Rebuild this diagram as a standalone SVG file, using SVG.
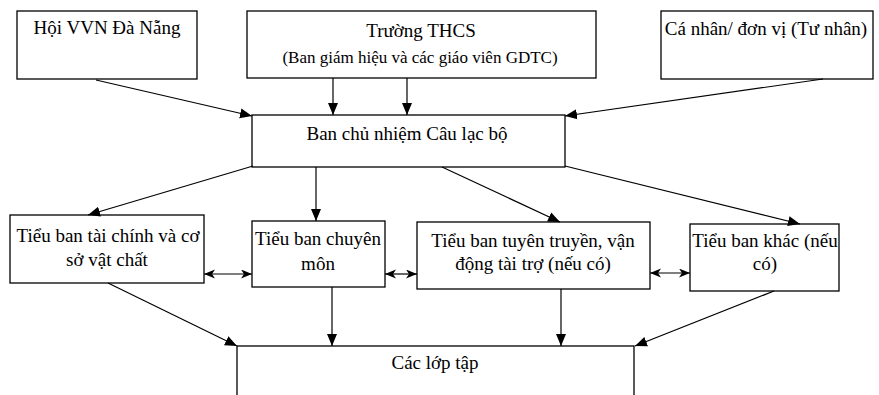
<svg xmlns="http://www.w3.org/2000/svg" width="879" height="395" viewBox="0 0 879 395">
<style>
.box{fill:#fff;stroke:#000;stroke-width:1.3}
.t{font-family:"Liberation Serif","Times New Roman",serif;font-size:19px;fill:#000;text-anchor:middle}
.s{font-size:17px}
.c line{stroke:#000;stroke-width:1.2}
.a{marker-end:url(#ah)}
.d{marker-start:url(#dh);marker-end:url(#dh)}
</style>
<defs>
<marker id="ah" markerUnits="userSpaceOnUse" markerWidth="14" markerHeight="12" refX="12" refY="5.5" orient="auto">
<path d="M0,0.5 L12,5.5 L0,10.5 z" fill="#000"/>
</marker>
<marker id="dh" markerUnits="userSpaceOnUse" markerWidth="12" markerHeight="10" refX="11" refY="4.5" orient="auto-start-reverse">
<path d="M0,0 L11,4.5 L0,9 L3,4.5 z" fill="#000"/>
</marker>
</defs>
<rect width="879" height="395" fill="#fff"/>
<g id="hoi-vvn">
<rect class="box" x="17" y="11" width="180" height="68"/>
<text class="t" x="107" y="34">Hội VVN Đà Nẵng</text>
</g>
<g id="truong-thcs">
<rect class="box" x="247" y="11" width="349" height="67"/>
<text class="t" x="421" y="37">Trường THCS</text>
<text class="t s" x="420" y="63">(Ban giám hiệu và các giáo viên GDTC)</text>
</g>
<g id="ca-nhan">
<rect class="box" x="661" y="11" width="212" height="68"/>
<text class="t" x="766" y="35">Cá nhân/ đơn vị (Tư nhân)</text>
</g>
<g id="ban-chu-nhiem">
<rect class="box" x="252" y="115" width="313" height="52"/>
<text class="t" x="407" y="140">Ban chủ nhiệm Câu lạc bộ</text>
</g>
<g id="tai-chinh">
<rect class="box" x="10" y="215" width="194" height="68"/>
<text class="t" x="108" y="242">Tiểu ban tài chính và cơ</text>
<text class="t" x="107" y="266">sở vật chất</text>
</g>
<g id="chuyen-mon">
<rect class="box" x="252" y="221" width="133" height="66"/>
<text class="t" x="318" y="245">Tiểu ban chuyên</text>
<text class="t" x="318" y="270">môn</text>
</g>
<g id="tuyen-truyen">
<rect class="box" x="417" y="222" width="233" height="67"/>
<text class="t" x="533" y="247">Tiểu ban tuyên truyền, vận</text>
<text class="t" x="533" y="270">động tài trợ (nếu có)</text>
</g>
<g id="khac">
<rect class="box" x="690" y="224" width="149" height="67"/>
<text class="t" x="765" y="247">Tiểu ban khác (nếu</text>
<text class="t" x="765" y="270">có)</text>
</g>
<g id="cac-lop-tap">
<rect class="box" x="237" y="346" width="397" height="80"/>
<text class="t" x="435" y="369">Các lớp tập</text>
</g>
<g id="connectors" class="c">
<line class="a" x1="96" y1="80" x2="252" y2="116"/>
<line class="a" x1="333" y1="78" x2="333" y2="115"/>
<line class="a" x1="407" y1="78" x2="407" y2="115"/>
<line class="a" x1="823" y1="79" x2="565" y2="116"/>
<line class="a" x1="253" y1="166" x2="88" y2="215"/>
<line class="a" x1="316" y1="167" x2="316" y2="221"/>
<line class="a" x1="442" y1="167" x2="560" y2="222"/>
<line class="a" x1="565" y1="166" x2="800" y2="224"/>
<line class="a" x1="108" y1="283" x2="237" y2="346"/>
<line class="a" x1="332" y1="287" x2="332" y2="346"/>
<line class="a" x1="561" y1="289" x2="561" y2="346"/>
<line class="a" x1="774" y1="291" x2="635" y2="346"/>
<line class="d" x1="204" y1="274" x2="252" y2="274"/>
<line class="d" x1="385" y1="274" x2="417" y2="274"/>
<line class="d" x1="650" y1="273" x2="690" y2="273"/>
</g>
</svg>
